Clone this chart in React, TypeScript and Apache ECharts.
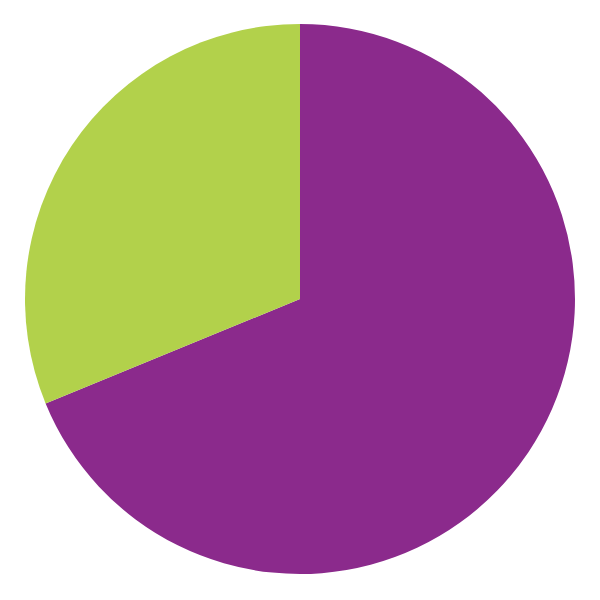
import { useEffect, useRef } from "react";
import * as echarts from "echarts";

const categories = ["Purple", "Green"];
const values = [68.8, 31.2];
const colors = ["#8B2A8C", "#B2D14B"];

export default function App() {
  const chartRef = useRef<HTMLDivElement>(null);

  useEffect(() => {
    document.body.style.margin = "0";
    if (!chartRef.current) return;
    const chart = echarts.init(chartRef.current, undefined, { renderer: "svg" });

    chart.setOption({
      animation: false,
      series: [
        {
          type: "pie",
          center: [300, 299],
          radius: 275,
          startAngle: 90,
          clockwise: true,
          label: { show: false },
          labelLine: { show: false },
          emphasis: { disabled: true },
          itemStyle: { borderWidth: 0 },
          data: categories.map((name, i) => ({
            name,
            value: values[i],
            itemStyle: { color: colors[i] },
          })),
        },
      ],
    });

    return () => chart.dispose();
  }, []);

  return <div ref={chartRef} style={{ width: 600, height: 600 }} />;
}
